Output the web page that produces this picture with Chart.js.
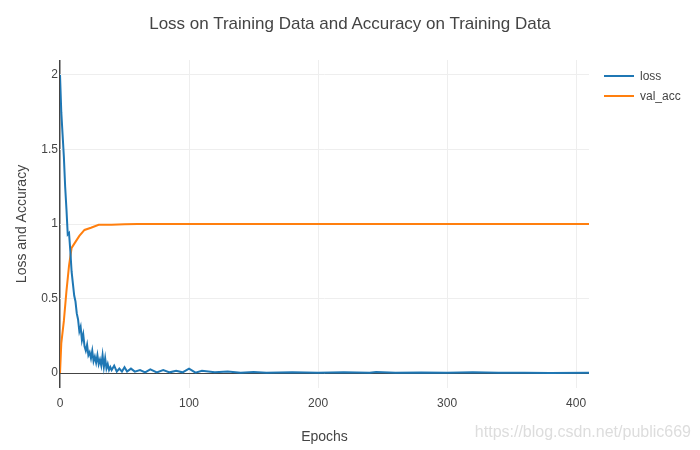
<!DOCTYPE html>
<html><head><meta charset="utf-8">
<script src="https://cdn.jsdelivr.net/npm/chart.js@4"></script>
<style>
body{margin:0;background:#fff;font-family:"Liberation Sans",Arial,sans-serif;}
#wrap{position:relative;width:700px;height:450px;}
#title{position:absolute;top:14px;left:0;width:700px;text-align:center;font-size:17px;color:#444;}
#legend{position:absolute;left:604px;top:66px;font-size:12px;color:#444;}
#legend div{height:20px;display:flex;align-items:center;}
#legend span{display:inline-block;width:30px;height:2px;margin-right:6px;}
#mark{position:absolute;right:9px;bottom:9px;font-size:16px;color:#ddd;}
</style></head>
<body>
<div id="wrap">
<canvas id="chart" width="700" height="450"></canvas>
<div id="title">Loss on Training Data and Accuracy on Training Data</div>
<div id="legend">
<div><span style="background:#1f77b4"></span>loss</div>
<div><span style="background:#ff7f0e"></span>val_acc</div>
</div>
<div id="mark">https://blog.csdn.net/public669</div>
</div>
<script>
// values
var lossEpochs = [0,1,2,3,4,5,6,7,8,9,10,11,12,13,14,15,16,17,18,19,20,21,22,23,24,25,26,27,28,29,30,31,32,33,34,35,36,37,38,39,40,42,44,46,48,50,52,55,58,62,66,70,75,80,85,90,95,100,105,110,120,130,140,150,160,180,200,220,240,245,260,280,300,320,340,360,380,410];
var lossValues = [2.0,1.75,1.6,1.45,1.25,1.1,0.93,0.94,0.82,0.68,0.6,0.52,0.48,0.4,0.36,0.28,0.31,0.22,0.26,0.18,0.15,0.19,0.12,0.14,0.1,0.15,0.08,0.11,0.07,0.12,0.06,0.09,0.05,0.12,0.04,0.1,0.03,0.06,0.02,0.04,0.02,0.05,0.01,0.03,0.01,0.04,0.01,0.03,0.01,0.02,0.005,0.025,0.005,0.02,0.005,0.015,0.005,0.03,0.003,0.015,0.005,0.01,0.003,0.008,0.002,0.006,0.002,0.005,0.002,0.008,0.002,0.004,0.002,0.005,0.002,0.003,0.001,0.002];
var accEpochs = [0,1,3,5,7,9,12,15,19,24,30,40,50,60,410];
var accValues = [0,0.2,0.35,0.55,0.72,0.84,0.88,0.92,0.96,0.975,0.995,0.995,0.998,1,1];
var xTicks = [0,100,200,300,400];
var yTicks = [0,0.5,1,1.5,2];

function pts(xs, ys){ return xs.map(function(x,i){ return {x:x, y:ys[i]}; }); }
var font = 'Liberation Sans';

new Chart(document.getElementById('chart'), {
	type: 'line',
	data: {
		datasets: [
			{label:'loss', data:pts(lossEpochs,lossValues), borderColor:'#1f77b4', borderWidth:2, pointRadius:0, tension:0},
			{label:'val_acc', data:pts(accEpochs,accValues), borderColor:'#ff7f0e', borderWidth:2, pointRadius:0, tension:0}
		]
	},
	options: {
		responsive:false, animation:false,
		layout:{padding:{top:60,right:111,left:10,bottom:0}},
		plugins:{legend:{display:false}, tooltip:{enabled:false}},
		scales:{
			x:{type:'linear', min:0, max:410,
				afterBuildTicks:function(s){ s.ticks = xTicks.map(function(v){return {value:v};}); },
				afterFit:function(s){ s.height = 62; },
				grid:{color:function(c){ return c.tick.value===0 ? '#444' : '#eee'; }, lineWidth:function(c){ return c.tick.value===0 ? 1.5 : 1; }, drawTicks:false},
				border:{display:false},
				ticks:{color:'#444', font:{size:12, family:font}, padding:8},
				title:{display:true, text:'Epochs', color:'#444', font:{size:14, family:font}, padding:{top:22}}
			},
			y:{min:-0.1, max:2.1,
				afterBuildTicks:function(s){ s.ticks = yTicks.map(function(v){return {value:v};}); },
				afterFit:function(s){ s.width = 50; },
				grid:{color:function(c){ return c.tick.value===0 ? '#444' : '#eee'; }, lineWidth:1, drawTicks:false},
				border:{display:false},
				ticks:{color:'#444', font:{size:12, family:font}, padding:2, callback:function(v){ return String(v); }},
				title:{display:true, text:'Loss and Accuracy', color:'#444', font:{size:14, family:font}, padding:{bottom:4}}
			}
		}
	}
});
</script>
</body></html>
